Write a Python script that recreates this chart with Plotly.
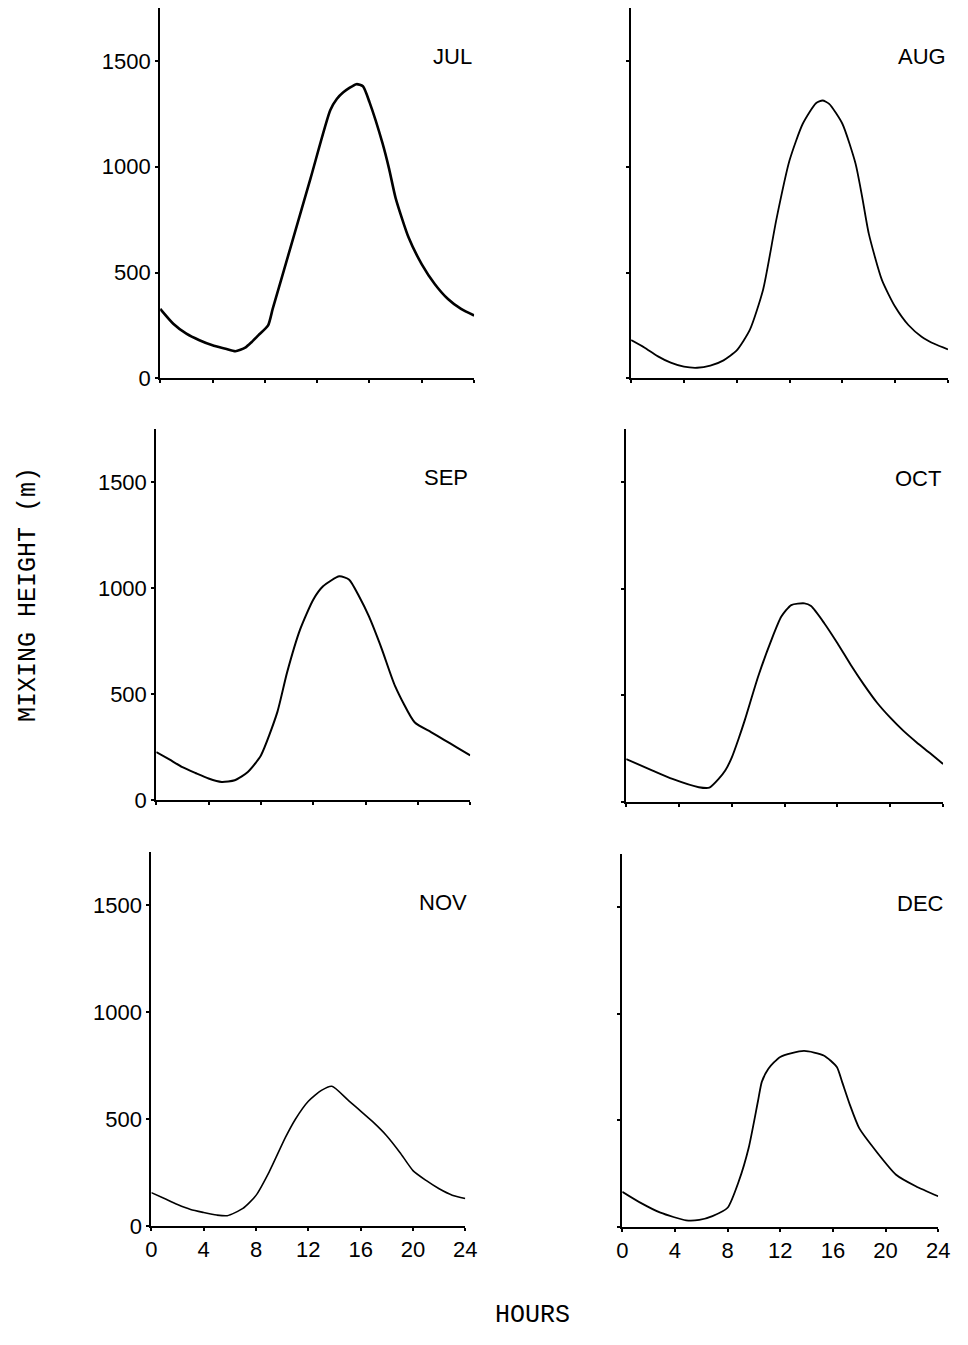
import plotly.graph_objects as go

# ---------------- data ----------------
months = ["JUL", "AUG", "SEP", "OCT", "NOV", "DEC"]

jul_hours = [0, 1, 2, 3, 4, 5, 5.75, 6.5, 7, 7.5, 8.25, 8.6, 10, 11.5, 13, 13.5, 14, 15, 15.5, 16, 17, 17.5, 18, 19, 20, 21, 22, 23, 24]
jul_mh = [328, 258, 211, 180, 156, 140, 128, 145, 172, 203, 250, 328, 626, 946, 1267, 1320, 1352, 1390, 1380, 1305, 1110, 990, 852, 664, 539, 445, 375, 328, 297]

aug_hours = [0, 1, 2, 3, 4, 5, 6, 7, 8, 9, 10, 11, 12, 13, 14, 14.5, 15, 16, 17, 17.5, 18, 19, 20, 21, 22, 23, 24]
aug_mh = [181, 146, 105, 74, 55, 50, 60, 85, 132, 230, 420, 750, 1030, 1203, 1300, 1313, 1297, 1203, 1014, 857, 684, 464, 338, 252, 197, 162, 137]

sep_hours = [0, 1, 2, 3, 4, 5, 6, 7, 8, 9.25, 10, 11, 12, 12.75, 14, 14.75, 15.5, 16.25, 17.25, 18.25, 19.75, 21, 22, 23, 24]
sep_mh = [227, 192, 156, 128, 102, 86, 94, 133, 211, 414, 602, 805, 945, 1008, 1055, 1039, 961, 867, 711, 539, 367, 321, 284, 248, 211]

oct_hours = [0, 2, 3.5, 5.5, 6.3, 7, 7.5, 8, 8.5, 9, 10, 11, 11.75, 12.5, 13.5, 14, 15, 16, 17, 18, 19, 20, 21, 22, 23, 24]
oct_mh = [202, 148, 109, 70, 68, 109, 148, 210, 295, 388, 590, 761, 870, 924, 932, 919, 839, 745, 644, 551, 466, 396, 334, 280, 230, 179]

nov_hours = [0, 1, 2, 3, 4, 5, 5.8, 7, 8, 9, 10.25, 11, 12, 13, 13.8, 15, 16, 17, 18, 19, 20, 21, 22, 23, 24]
nov_mh = [156, 128, 100, 77, 63, 51, 48, 82, 143, 252, 414, 498, 583, 634, 653, 591, 537, 483, 421, 344, 259, 213, 174, 144, 128]

dec_hours = [0, 1.4, 2.9, 4.85, 5.85, 6.85, 8, 8.85, 9.6, 10.3, 10.6, 11.1, 12, 13.8, 15.3, 16.3, 16.7, 17.3, 18, 19.3, 20.8, 22.3, 24]
dec_mh = [165, 113, 67, 31, 33, 51, 90, 214, 370, 587, 680, 742, 797, 825, 804, 750, 680, 571, 463, 354, 245, 191, 144]

hour_ticks = [0, 4, 8, 12, 16, 20, 24]
height_ticks = [0, 500, 1000, 1500]

series = [(jul_hours, jul_mh), (aug_hours, aug_mh), (sep_hours, sep_mh),
          (oct_hours, oct_mh), (nov_hours, nov_mh), (dec_hours, dec_mh)]

# ---------------- layout geometry (window pixels) ----------------
PM = 8                      # default page (body) margin of the html page
W, H = 968 - 2 * PM, 1345 - 2 * PM


def fx(px):
    return (px - PM) / W


def fy(py):
    return 1 - (py - PM) / H


# left, right, top, bottom of each plot area in window pixels
boxes = [(157, 477, 8, 382), (637, 960, 8, 382),
         (153, 473, 433, 808), (632, 955, 433, 810),
         (148, 468, 860, 1238), (628, 950, 862, 1239)]
line_widths = [2.6, 1.8, 2.0, 1.9, 1.6, 1.8]
label_pos = [(477, 57), (960, 57), (473, 482), (955, 483), (472, 911), (958, 912)]

tick_font = dict(family="Liberation Sans, Arial", size=22, color="black")
label_font = dict(family="Liberation Sans, Arial", size=22, color="black")
mono_font = dict(family="Liberation Mono, Courier New, DejaVu Sans Mono", size=25, color="black")

fig = go.Figure()
layout = dict(width=W, height=H, margin=dict(l=0, r=0, t=0, b=0),
              paper_bgcolor="white", plot_bgcolor="white", showlegend=False,
              autosize=False)
annotations = []

for i, ((hx, hy), (l, r, t, b)) in enumerate(zip(series, boxes)):
    n = i + 1
    xa = "x" if n == 1 else f"x{n}"
    ya = "y" if n == 1 else f"y{n}"
    fig.add_trace(go.Scatter(x=hx, y=hy, mode="lines", xaxis=xa, yaxis=ya,
                             line=dict(color="black", width=line_widths[i], shape="spline", smoothing=0.6),
                             hoverinfo="skip", cliponaxis=False))
    left_col = (i % 2 == 0)
    bottom_row = (i >= 4)
    layout["xaxis" if n == 1 else f"xaxis{n}"] = dict(
        domain=[max(0, fx(l)), min(1, fx(r))], anchor=ya, range=[0, 24],
        showline=True, linecolor="black", linewidth=2, mirror=False,
        showgrid=False, zeroline=False,
        tickmode="array", tickvals=hour_ticks, ticktext=[str(v) for v in hour_ticks],
        ticks="outside", ticklen=3, tickwidth=2, tickcolor="black",
        showticklabels=bottom_row, tickfont=tick_font, fixedrange=True)
    layout["yaxis" if n == 1 else f"yaxis{n}"] = dict(
        domain=[max(0, fy(b)), min(1, fy(t))], anchor=xa, range=[0, 1750],
        showline=True, linecolor="black", linewidth=2, mirror=False,
        showgrid=False, zeroline=False,
        tickmode="array", tickvals=height_ticks, ticktext=[str(v) for v in height_ticks],
        ticks="outside", ticklen=3, tickwidth=2, tickcolor="black",
        showticklabels=left_col, tickfont=tick_font, fixedrange=True)
    lx, ly = label_pos[i]
    annotations.append(dict(text=months[i], xref="paper", yref="paper",
                            x=fx(lx), y=fy(ly), xanchor="right", yanchor="middle",
                            showarrow=False, font=label_font))

annotations.append(dict(text="MIXING HEIGHT (m)", xref="paper", yref="paper",
                        x=fx(22), y=fy(600), xanchor="center", yanchor="middle",
                        textangle=-90, showarrow=False, font=mono_font))
annotations.append(dict(text="HOURS", xref="paper", yref="paper",
                        x=fx(537), y=fy(1328), xanchor="center", yanchor="middle",
                        showarrow=False, font=mono_font))
layout["annotations"] = annotations
fig.update_layout(**layout)

fig.write_html("out.html", config={"displayModeBar": False})
